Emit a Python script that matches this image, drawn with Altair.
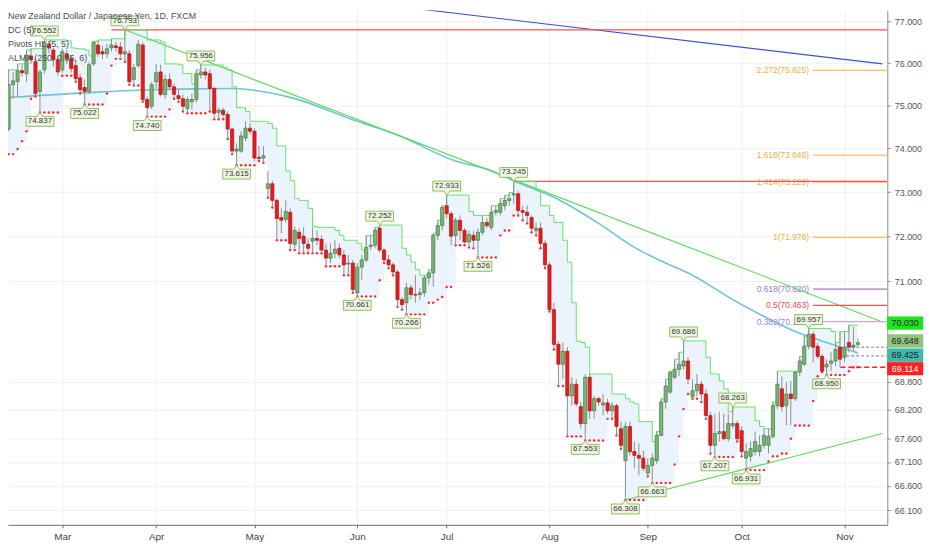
import altair as alt
import pandas as pd

# ------------------------------------------------------------------ data
FIRST_DATE = "2019-02-07"      # first daily bar held in the data (4 bars before the visible window)
FIRST_BAR = -4                 # bar number of that first bar (bar 0 = 2019-02-13)

OPEN = [
    75.79, 75.09, 74.17, 74.29, 74.45, 75.49, 75.56, 75.82, 75.75, 76.17,
    76.03, 75.33, 75.84, 76.45, 76.31, 76.08, 75.84, 76.22, 76.10, 75.94,
    75.65, 75.42, 75.33, 75.98, 76.43, 76.27, 76.22, 76.36, 76.41, 76.38,
    76.22, 76.22, 75.61, 75.94, 76.43, 75.14, 74.98, 75.56, 75.79, 75.26,
    75.61, 75.44, 75.23, 75.16, 74.93, 75.09, 75.14, 75.72, 75.79, 75.75,
    75.40, 74.84, 74.89, 74.79, 74.45, 73.94, 73.94, 74.24, 74.47, 74.40,
    73.79, 73.78, 73.08, 73.19, 72.81, 72.42, 72.38, 72.54, 71.82, 72.09,
    72.00, 71.82, 71.89, 71.95, 71.93, 71.69, 71.51, 71.62, 71.73, 71.58,
    71.38, 71.40, 70.74, 71.31, 71.47, 71.77, 71.80, 72.18, 71.69, 71.47,
    71.36, 71.20, 70.59, 70.52, 70.85, 70.70, 70.70, 70.74, 71.07, 71.18,
    72.02, 72.24, 72.69, 72.51, 72.02, 72.36, 72.13, 71.87, 72.02, 71.91,
    72.09, 72.31, 72.20, 72.54, 72.54, 72.69, 72.81, 72.94, 72.96, 72.58,
    72.54, 72.42, 72.13, 72.18, 71.84, 71.36, 70.37, 69.61, 69.18, 69.46,
    68.50, 68.75, 68.27, 67.91, 68.90, 68.18, 68.44, 68.31, 68.35, 68.18,
    68.29, 67.80, 67.13, 67.85, 67.32, 67.24, 67.18, 66.87, 67.03, 67.13,
    67.66, 68.37, 68.58, 68.90, 69.07, 69.14, 69.25, 68.48, 68.61, 68.75,
    68.54, 68.08, 67.45, 67.70, 67.74, 67.59, 67.87, 67.91, 67.76, 67.18,
    67.22, 67.32, 67.32, 67.45, 67.45, 67.64, 68.29, 68.65, 68.29, 68.54,
    68.44, 69.01, 69.18, 69.57, 69.83, 69.57, 69.35, 69.12, 69.20, 69.25,
    69.55, 69.33, 69.65, 69.55, 69.61,
]
HIGH = [
    75.84, 75.14, 74.45, 74.86, 75.84, 75.79, 75.98, 75.96, 76.31, 76.34,
    76.12, 75.84, 76.552, 76.53, 76.36, 76.17, 76.34, 76.31, 76.17, 76.08,
    75.75, 75.61, 76.03, 76.52, 76.55, 76.41, 76.45, 76.58, 76.50, 76.50,
    76.793, 76.31, 75.98, 76.55, 76.50, 75.21, 75.56, 75.98, 75.96, 75.72,
    75.75, 75.51, 75.37, 75.26, 75.21, 75.28, 75.84, 75.956, 75.89, 75.84,
    75.44, 74.95, 74.95, 74.86, 74.49, 74.12, 74.40, 74.63, 74.58, 74.47,
    74.06, 74.06, 73.48, 73.26, 72.85, 72.63, 72.81, 72.63, 72.22, 72.18,
    72.20, 71.95, 72.20, 72.13, 72.02, 71.84, 71.84, 71.91, 71.84, 71.69,
    71.58, 71.47, 71.40, 71.58, 72.02, 72.02, 72.20, 72.252, 71.73, 71.58,
    71.42, 71.25, 70.65, 70.96, 70.92, 71.13, 70.85, 71.13, 71.25, 72.07,
    72.36, 72.69, 72.933, 72.56, 72.42, 72.47, 72.18, 72.13, 72.13, 72.18,
    72.47, 72.40, 72.69, 72.69, 72.85, 72.92, 72.99, 73.245, 73.03, 72.69,
    72.69, 72.47, 72.31, 72.31, 71.91, 71.42, 70.52, 69.68, 69.65, 69.55,
    68.90, 68.86, 68.37, 68.97, 68.97, 68.50, 68.48, 68.54, 68.44, 68.37,
    68.33, 67.95, 67.95, 67.95, 67.53, 67.49, 67.34, 67.18, 67.28, 67.74,
    68.44, 68.86, 69.03, 69.29, 69.44, 69.686, 69.33, 68.86, 68.97, 68.82,
    68.65, 68.16, 68.12, 68.16, 68.12, 68.12, 68.263, 67.97, 67.85, 67.49,
    67.53, 67.74, 67.66, 67.80, 67.80, 68.37, 69.03, 68.92, 68.80, 68.82,
    69.03, 69.35, 69.78, 69.957, 69.89, 69.65, 69.40, 69.29, 69.44, 69.65,
    69.89, 69.89, 70.030, 70.00, 69.74,
]
LOW = [
    74.98, 73.87, 73.99, 74.17, 74.40, 75.16, 75.21, 75.68, 75.56, 75.98,
    75.21, 74.837, 75.75, 76.22, 75.91, 75.70, 75.77, 75.98, 75.77, 75.56,
    75.28, 75.022, 75.28, 75.94, 76.15, 76.10, 76.12, 76.27, 76.27, 76.15,
    76.03, 75.49, 75.47, 75.89, 75.09, 74.740, 74.91, 75.40, 75.21, 75.16,
    75.37, 75.19, 75.09, 74.86, 74.82, 74.91, 75.07, 75.63, 75.61, 74.86,
    74.68, 74.68, 74.72, 74.22, 73.87, 73.615, 73.90, 74.17, 74.33, 73.71,
    73.74, 73.67, 72.87, 72.65, 71.91, 72.07, 72.31, 71.69, 71.73, 71.62,
    71.62, 71.64, 71.62, 71.80, 71.62, 71.33, 71.40, 71.51, 71.51, 71.13,
    71.13, 70.74, 70.661, 71.02, 71.42, 71.69, 71.73, 71.64, 71.40, 71.29,
    71.13, 70.43, 70.37, 70.266, 70.59, 70.52, 70.59, 70.65, 70.92, 70.87,
    71.91, 72.13, 72.40, 71.80, 71.80, 71.91, 71.84, 71.75, 71.73, 71.526,
    72.02, 72.18, 72.13, 72.47, 72.47, 72.58, 72.69, 72.74, 72.47, 72.36,
    72.29, 72.09, 72.02, 71.73, 71.29, 70.33, 69.50, 68.71, 68.86, 67.64,
    68.29, 68.27, 67.80, 67.553, 68.01, 68.01, 68.29, 68.08, 68.12, 68.01,
    67.66, 67.38, 66.308, 67.24, 66.97, 66.82, 66.91, 66.80, 66.663, 67.05,
    67.64, 68.22, 68.54, 68.86, 68.92, 69.07, 68.75, 68.44, 68.50, 68.37,
    68.01, 67.28, 67.207, 67.53, 67.55, 67.53, 67.80, 67.53, 67.22, 66.931,
    67.11, 67.24, 67.22, 67.38, 67.28, 67.59, 68.22, 68.16, 67.87, 67.87,
    68.39, 68.92, 69.14, 69.50, 69.22, 69.29, 69.01, 68.950, 69.03, 69.14,
    69.114, 69.22, 69.44, 69.46, 69.57,
]
CLOSE = [
    75.09, 74.17, 74.29, 74.45, 75.49, 75.58, 75.82, 75.77, 76.19, 76.08,
    75.28, 75.79, 76.50, 76.36, 76.08, 75.79, 76.27, 76.10, 75.87, 75.63,
    75.37, 75.33, 75.96, 76.50, 76.22, 76.22, 76.34, 76.43, 76.37, 76.22,
    76.27, 75.56, 75.89, 76.45, 75.14, 74.95, 75.49, 75.77, 75.26, 75.61,
    75.44, 75.26, 75.16, 74.98, 75.14, 75.14, 75.75, 75.79, 75.72, 75.40,
    74.82, 74.89, 74.79, 74.45, 73.94, 73.99, 74.29, 74.47, 74.40, 73.78,
    73.77, 73.83, 73.19, 72.81, 72.40, 72.36, 72.56, 71.84, 72.13, 71.95,
    71.84, 71.73, 71.95, 71.91, 71.69, 71.51, 71.62, 71.71, 71.58, 71.36,
    71.40, 70.81, 71.31, 71.47, 71.75, 71.80, 72.13, 71.69, 71.47, 71.36,
    71.20, 70.59, 70.48, 70.85, 70.70, 70.69, 70.74, 71.07, 71.18, 72.02,
    72.24, 72.65, 72.51, 72.00, 72.36, 72.13, 71.87, 72.04, 71.91, 72.09,
    72.31, 72.24, 72.54, 72.58, 72.74, 72.81, 72.85, 72.96, 72.58, 72.54,
    72.47, 72.18, 72.18, 71.84, 71.36, 70.37, 69.61, 69.18, 69.46, 68.50,
    68.75, 68.33, 67.91, 68.90, 68.18, 68.44, 68.37, 68.35, 68.18, 68.29,
    67.85, 67.45, 67.85, 67.32, 67.24, 67.18, 66.97, 67.03, 67.18, 67.66,
    68.37, 68.71, 69.01, 69.07, 69.18, 69.25, 68.86, 68.61, 68.75, 68.54,
    68.08, 67.45, 67.70, 67.74, 67.59, 67.91, 67.91, 67.59, 67.32, 67.32,
    67.38, 67.53, 67.45, 67.66, 67.64, 68.29, 68.75, 68.27, 68.54, 68.44,
    69.01, 69.25, 69.57, 69.83, 69.55, 69.35, 69.03, 69.18, 69.25, 69.50,
    69.29, 69.55, 69.55, 69.59, 69.648,
]

MONTHS = ["Mar", "Apr", "May", "Jun", "Jul", "Aug", "Sep", "Oct", "Nov"]
Y_TICKS = [77.0, 76.0, 75.0, 74.0, 73.0, 72.0, 71.0, 68.8, 68.2, 67.6, 67.1, 66.6, 66.1]

# Pivots HL (5, 5)
PIVOT_BAR = [7, 8, 17, 26, 31, 43, 51, 78, 83, 89, 98, 105, 113, 129, 138, 144, 151, 158, 162, 165, 179, 183]
PIVOT_PRICE = [74.837, 76.552, 75.022, 76.793, 74.740, 75.956, 73.615, 70.661, 72.252, 70.266, 72.933,
               71.526, 73.245, 67.553, 66.308, 66.663, 69.686, 67.207, 68.263, 66.931, 69.957, 68.950]
PIVOT_KIND = ["L", "H", "L", "H", "L", "H", "L", "L", "H", "L", "H",
              "L", "H", "L", "L", "L", "H", "L", "H", "L", "H", "L"]

# ALMA (250, 0.85, 6)
ALMA_BAR = [-1, 21, 32, 41, 50, 54, 63, 78, 87, 100, 108, 113, 123, 132, 140, 147, 153, 162, 169, 176, 183, 190]
ALMA_VALUE = [75.18, 75.32, 75.37, 75.39, 75.40, 75.37, 75.19, 74.63, 74.31, 73.71, 73.49, 73.26,
              72.83, 72.29, 71.75, 71.40, 71.13, 70.59, 70.22, 69.89, 69.65, 69.425]

# Fibonacci extension levels
FIB_RATIO = ["2.272", "1.618", "1.414", "1", "0.618", "0.5", "0.382"]
FIB_PRICE = [75.825, 73.846, 73.229, 71.976, 70.820, 70.463, 70.107]

# horizontal rays from pivot highs (start bar, price)
RAY_BAR = [23, 113]
RAY_PRICE = [76.793, 73.245]

# trend lines (bar, price) -> (bar, price)
TREND_BAR1 = [79.3, 26.0, 138.0]
TREND_P1 = [77.454, 76.793, 66.308]
TREND_BAR2 = [195.5, 195.5, 195.5]
TREND_P2 = [75.98, 70.10, 67.70]

# last-value price lines and scale labels
DASH_START = [187.4, 187.4, 186.1]
DASH_PRICE = [69.55, 69.36, 69.114]
LAST_VALUE = [70.030, 69.648, 69.425, 69.114]

LEGEND_LINES = ["New Zealand Dollar / Japanese Yen, 1D, FXCM", "DC (5)", "Pivots HL (5, 5)", "ALMA (250, 0.85, 6)"]

# ------------------------------------------------------------------ styles / layout
FONT = "Liberation Sans"
W, H = 887, 519
X_DOMAIN = [0.965, 195.48]
Y_DOMAIN = [65.797, 77.262]
GREEN_FILL, GREEN_EDGE = "#79b674", "#457343"
RED_FILL, RED_EDGE = "#ee1a1a", "#a81414"
WICK = "#8e8e8e"
DC_LINE = "#62e462"
RAY_COLOR = "#ff4f4f"
TREND_COLOR = ["#3b4fd6", "#52dc52", "#52dc52"]
FIB_TEXT_COLOR = ["#f5ad45", "#f5ad45", "#f5ad45", "#f5ad45", "#8b7fd0", "#f24848", "#9a86d8"]
FIB_LINE_COLOR = ["#ffbd66", "#ffbd66", "#ffbd66", "#ffbd66", "#a874c8", "#f25555", "#d6a2e4"]
DASH_COLOR = ["#7a7a7a", "#7a7a7a", "#ff2020"]
LAST_BG = ["#1ee51e", "#93c47d", "#3fb8ad", "#ff2020"]
LAST_FG = ["#1e1e1e", "#1e1e1e", "#1e1e1e", "#ffffff"]
LAST_SHIFT = [-2.0, -1.7, 2.3, 1.4]

xs = alt.Scale(domain=X_DOMAIN, nice=False, zero=False)
ys = alt.Scale(type="log", domain=Y_DOMAIN, nice=False, zero=False)

dates = pd.bdate_range(FIRST_DATE, periods=len(OPEN))
bars = pd.DataFrame({
    "bar": list(range(FIRST_BAR, FIRST_BAR + len(OPEN))),
    "date": dates.strftime("%Y-%m-%d"),
    "open": OPEN, "high": HIGH, "low": LOW, "close": CLOSE,
})

month_bars = []
for m in range(3, 12):
    i = [j for j, d in enumerate(dates) if d.month == m][0]
    month_bars.append(int(bars["bar"][i]))
label_expr = " : ".join(f"datum.value == {b} ? '{n}'" for b, n in zip(month_bars, MONTHS)) + " : ''"

x_axis = alt.Axis(values=month_bars, labelExpr=label_expr, grid=True, gridColor="#f0f0f0",
                  domainColor="#6a6a6a", tickColor="#6a6a6a", tickSize=3, labelColor="#444",
                  labelFont=FONT, labelFontSize=10, labelPadding=4, labelFlush=False,
                  labelOverlap=False, title=None)
y_axis = alt.Axis(orient="right", values=Y_TICKS, format=".3f", grid=True, gridColor="#f0f0f0",
                  domainColor="#8a8a8a", tickColor="#8a8a8a", tickSize=3, labelColor="#555",
                  labelFont=FONT, labelFontSize=9, labelPadding=4, labelOverlap=False,
                  labelFlush=False, title=None)


def X(field="bar"):
    return alt.X(f"{field}:Q", scale=xs, axis=x_axis)


def Y(field):
    return alt.Y(f"{field}:Q", scale=ys, axis=y_axis)


base = alt.Chart(bars)
dc = base.transform_window(dc_up="max(high)", dc_lo="min(low)", frame=[-4, 0],
                           sort=[alt.SortField("bar", order="ascending")])

up = "datum.close >= datum.open"

layers = []
# Donchian fill
layers.append(dc.mark_area(interpolate="step-after", color="#e4f0fc", opacity=0.75, clip=True).encode(
    x=X(), y=Y("dc_lo"), y2="dc_up:Q"))

# ALMA
alma = pd.DataFrame({"bar": ALMA_BAR, "value": ALMA_VALUE})
layers.append(alt.Chart(alma).mark_line(color="#72c3d6", strokeWidth=1.6, interpolate="monotone",
                                        clip=True).encode(x=X(), y=Y("value")))

# trend lines
trend = pd.DataFrame({"b1": TREND_BAR1, "p1": TREND_P1, "b2": TREND_BAR2, "p2": TREND_P2,
                      "c": TREND_COLOR})
layers.append(alt.Chart(trend).mark_rule(strokeWidth=1.1, clip=True).encode(
    x=X("b1"), x2="b2:Q", y=Y("p1"), y2="p2:Q", color=alt.Color("c:N", scale=None)))

# fib lines + labels
fib = pd.DataFrame({"price": FIB_PRICE, "lc": FIB_LINE_COLOR, "tc": FIB_TEXT_COLOR,
                    "label": [f"{r}({p:.3f})" for r, p in zip(FIB_RATIO, FIB_PRICE)]})
layers.append(alt.Chart(fib).mark_rule(strokeWidth=1.2).encode(
    x=alt.value(812), x2=alt.value(W), y=Y("price"), color=alt.Color("lc:N", scale=None)))
layers.append(alt.Chart(fib).mark_text(align="right", baseline="middle", font=FONT, fontSize=8.5).encode(
    x=alt.value(808), y=Y("price"), text="label:N", color=alt.Color("tc:N", scale=None)))

# pivot rays
rays = pd.DataFrame({"bar": RAY_BAR, "price": RAY_PRICE})
layers.append(alt.Chart(rays).mark_rule(color=RAY_COLOR, strokeWidth=1.3, clip=True).encode(
    x=X(), x2=alt.value(W), y=Y("price")))

# Donchian upper line and lower dots
layers.append(dc.mark_line(interpolate="step-after", color=DC_LINE, strokeWidth=1, clip=True).encode(
    x=X(), y=Y("dc_up")))
layers.append(dc.mark_circle(size=6, color="#ff2626", opacity=1, clip=True).encode(
    x=X(), y=Y("dc_lo")))

# candles
layers.append(base.mark_rule(color=WICK, strokeWidth=1, clip=True).encode(
    x=X(), y=Y("low"), y2="high:Q"))
layers.append(base.transform_calculate(
    lo="min(datum.open, datum.close)", hi="max(datum.open, datum.close)"
).mark_bar(size=3.2, strokeWidth=0.7, clip=True).encode(
    x=X(), y=Y("lo"), y2="hi:Q",
    fill=alt.condition(up, alt.value(GREEN_FILL), alt.value(RED_FILL)),
    stroke=alt.condition(up, alt.value(GREEN_EDGE), alt.value(RED_EDGE))))

# pivot labels
piv = pd.DataFrame({"bar": PIVOT_BAR, "price": PIVOT_PRICE, "kind": PIVOT_KIND})
PATH_H = "M0,0L0.214,-0.286L1,-0.286L1,-1L-1,-1L-1,-0.286L-0.214,-0.286Z"
PATH_L = "M0,0L0.214,0.286L1,0.286L1,1L-1,1L-1,0.286L-0.214,0.286Z"
for kind, path, dy in (("H", PATH_H, -9), ("L", PATH_L, 9)):
    sub = alt.Chart(piv).transform_filter(f"datum.kind == '{kind}'")
    layers.append(sub.mark_point(shape=path, size=784, filled=True, fill="#eef6e3", color="#eef6e3",
                                 stroke="#8dbf5a", strokeWidth=1, opacity=1).encode(x=X(), y=Y("price")))
    layers.append(sub.mark_text(dy=dy, font=FONT, fontSize=8, color="#333333", baseline="middle").encode(
        x=X(), y=Y("price"), text=alt.Text("price:Q", format=".3f")))

# last-value dashed price lines
dash = pd.DataFrame({"bar": DASH_START, "price": DASH_PRICE, "c": DASH_COLOR})
layers.append(alt.Chart(dash).transform_filter("datum.c != '#ff2020'").mark_rule(
    strokeDash=[3, 2], strokeWidth=1).encode(x=X(), x2=alt.value(W), y=Y("price"),
                                             color=alt.Color("c:N", scale=None)))
layers.append(alt.Chart(dash).transform_filter("datum.c == '#ff2020'").mark_rule(
    strokeDash=[5, 3], strokeWidth=1.6).encode(x=X(), x2=alt.value(W), y=Y("price"),
                                               color=alt.Color("c:N", scale=None)))

# price-scale labels
BOX_PATH = "M0,-0.1806L1,-0.1806L1,0.1806L0,0.1806Z"
for val, bg, fg, sh in zip(LAST_VALUE, LAST_BG, LAST_FG, LAST_SHIFT):
    d = alt.Chart(pd.DataFrame({"price": [val]}))
    layers.append(d.mark_point(shape=BOX_PATH, size=5184, filled=True, fill=bg, color=bg, stroke=bg,
                               strokeWidth=0.5, opacity=1, yOffset=sh).encode(x=alt.value(W), y=Y("price")))
    layers.append(d.mark_text(font=FONT, fontSize=9, color=fg, align="center", baseline="middle",
                              dy=sh).encode(x=alt.value(W + 18), y=Y("price"),
                                            text=alt.Text("price:Q", format=".3f")))

# legend lines (top-left)
for i, line in enumerate(LEGEND_LINES):
    layers.append(alt.Chart(pd.DataFrame({"t": [line]})).mark_text(
        align="left", baseline="middle", font=FONT, fontSize=9, color="#4d4d4d").encode(
        x=alt.value(0), y=alt.value(6 + 14.2 * i), text="t:N"))

chart = alt.layer(*layers).properties(width=W, height=H, padding=0, background="white").configure_view(
    stroke=None)

chart.save("out.html", embed_options={"renderer": "svg", "actions": False})
